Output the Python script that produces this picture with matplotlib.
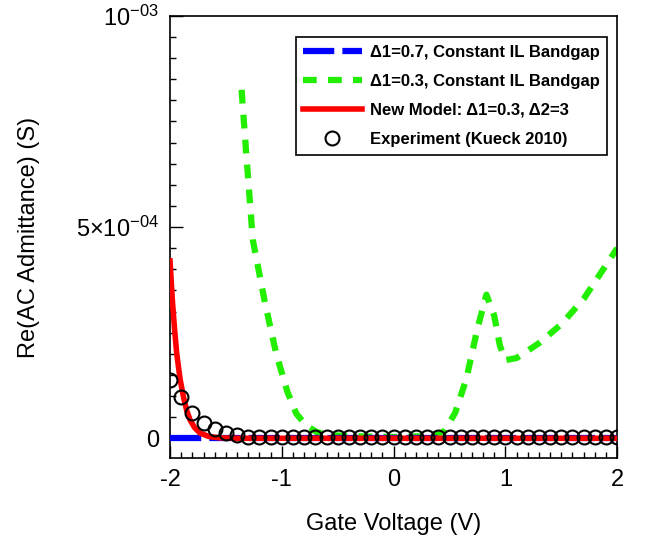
import numpy as np
import matplotlib
matplotlib.use('Agg')
import matplotlib.pyplot as plt
from matplotlib.ticker import MultipleLocator

# data ---------------------------------------------
# D1=0.7, constant IL bandgap (flat at zero)
v_blue = [-2.0, 2.0]
g_blue = [0.0, 0.0]
# D1=0.3, constant IL bandgap
v_green = [-1.36, -1.32, -1.26, -1.15, -1.05, -0.95, -0.87, -0.78, -0.69, -0.6,
           -0.4, 0.0, 0.3, 0.45, 0.55, 0.65, 0.75, 0.83, 0.9, 0.95,
           1.0, 1.1, 1.3, 1.5, 1.7, 1.85, 2.0]
g_green = [8.25e-4, 6.8e-4, 4.7e-4, 3.2e-4, 2.0e-4, 1.1e-4, 5.8e-5, 3.0e-5, 1.5e-5, 8e-6,
           5e-6, 3e-6, 5e-6, 1.5e-5, 6e-5, 1.4e-4, 2.6e-4, 3.4e-4, 2.9e-4, 2.2e-4,
           1.85e-4, 1.9e-4, 2.25e-4, 2.7e-4, 3.3e-4, 3.9e-4, 4.5e-4]
# new model D1=0.3, D2=3
v_red = [-2.0, -1.98, -1.96, -1.94, -1.91, -1.88, -1.85, -1.82, -1.78, -1.73,
         -1.65, -1.55, -1.4, 0.0, 2.0]
g_red = [4.2e-4, 3.3e-4, 2.6e-4, 2.0e-4, 1.4e-4, 9.8e-5, 6.5e-5, 4.3e-5, 2.5e-5, 1.2e-5,
         4e-6, 1e-6, 0.0, 0.0, 0.0]
# experiment (Kueck 2010)
v_exp = np.round(np.arange(-2.0, 2.01, 0.1), 2)
g_exp = [1.37e-4, 9.8e-5, 5.9e-5, 3.6e-5, 2.1e-5, 1.3e-5, 7e-6] + [3e-6] * 34

#plot
plt.rcParams['font.family'] = ['Liberation Sans', 'DejaVu Sans']
plt.rcParams['mathtext.fontset'] = 'custom'
plt.rcParams['mathtext.rm'] = 'Liberation Sans'
plt.rcParams['mathtext.it'] = 'Liberation Sans'
plt.rcParams['font.size'] = 17
plt.rcParams['xtick.direction'] = 'in'
plt.rcParams['ytick.direction'] = 'in'

fig = plt.figure(figsize=(6.49, 5.48), dpi=100)
ax = fig.add_axes([0.262, 0.164, 0.689, 0.807])

lw = 4.5
ax.plot(v_green, g_green, color='#22ee00', lw=lw, dashes=(2.2, 1.8),
        label=u'\u03941=0.3, Constant IL Bandgap', zorder=2)
ax.plot(v_blue, g_blue, color='#0000ff', lw=lw, dashes=(5, 1.3),
        label=u'\u03941=0.7, Constant IL Bandgap', zorder=3)
ax.plot(v_red, g_red, color='#ff0000', lw=4,
        label=u'New Model: \u03941=0.3, \u03942=3', zorder=4)
ax.plot(v_exp, g_exp, 'o', mfc='none', mec='black', ms=10, mew=1.5,
        label='Experiment (Kueck 2010)', zorder=5)

ax.set_xlim(-2, 2)
ax.set_ylim(-4.7e-5, 1e-3)
ax.set_xticks([-2, -1, 0, 1, 2])
ax.set_xticklabels(['-2', '-1', '0', '1', '2'])
ax.set_yticks([0, 5e-4, 1e-3])
ax.set_yticklabels(['0', r'$5{\times}10^{-04}$', r'$10^{-03}$'])
ax.xaxis.set_minor_locator(MultipleLocator(0.1))
ax.yaxis.set_minor_locator(MultipleLocator(5e-5))
ax.tick_params(which='major', length=9, width=1, pad=8)
ax.tick_params(which='minor', length=4, width=1)
for s in ax.spines.values():
    s.set_linewidth(1.2)

ax.set_xlabel('Gate Voltage (V)', labelpad=16)
ax.set_ylabel('Re(AC Admittance) (S)', labelpad=26)

h, l = ax.get_legend_handles_labels()
order = [1, 0, 2, 3]
leg = ax.legend([h[i] for i in order], [l[i] for i in order],
                loc='upper right', bbox_to_anchor=(0.978, 0.952),
                borderaxespad=0,
                prop={'weight': 'bold', 'size': 12}, fancybox=False,
                edgecolor='black', framealpha=1, handlelength=3.5,
                labelspacing=0.85, borderpad=0.45, handletextpad=0.5)
leg.get_frame().set_linewidth(1.2)

fig.savefig('out.png', dpi=100)
